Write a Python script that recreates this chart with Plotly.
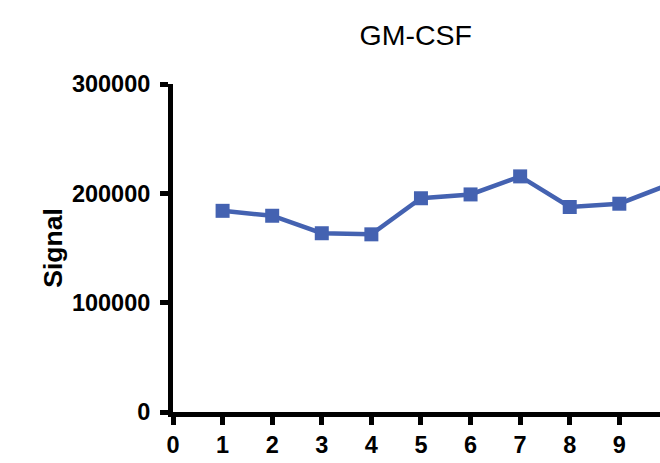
import plotly.graph_objects as go

# Time points and measured signal (GM-CSF)
time_points = [1, 2, 3, 4, 5, 6, 7, 8, 9, 10]
signal = [184000, 179500, 163500, 162500, 195500, 199000, 215500, 187500, 190500, 208000]

x_ticks = [0, 1, 2, 3, 4, 5, 6, 7, 8, 9, 10]
y_ticks = [0, 100000, 200000, 300000]

BLUE = "#4462B1"
FONT = "Arial, Liberation Sans, sans-serif"

fig = go.Figure()
fig.add_trace(go.Scatter(
    x=time_points,
    y=signal,
    mode="lines+markers",
    line=dict(color=BLUE, width=4.5),
    marker=dict(symbol="square", size=14, color=BLUE),
    showlegend=False,
))

fig.update_layout(
    width=660,
    height=463,
    margin=dict(l=173, r=0, t=84, b=51),
    paper_bgcolor="white",
    plot_bgcolor="white",
    title=dict(text="GM-CSF", x=0.630, xanchor="center", y=0.924, yanchor="middle",
               font=dict(family=FONT, size=28.5, color="black")),
    font=dict(family=FONT, color="black"),
)

axis_style = dict(
    showgrid=False,
    zeroline=False,
    showline=True,
    linecolor="black",
    linewidth=5,
    ticks="outside",
    ticklen=8,
    tickwidth=5,
    tickcolor="black",
    tickfont=dict(family=FONT, size=23.5, color="black", weight="bold"),
)

fig.update_xaxes(range=[0, 9.82], tickvals=x_ticks, **axis_style)
fig.update_yaxes(
    range=[0, 300000],
    tickvals=y_ticks,
    tickformat="d",
    ticklabelstandoff=5,
    title=dict(text="Signal", standoff=3,
               font=dict(family=FONT, size=26.5, color="black", weight="bold")),
    **axis_style,
)

# drop the default page margin so the figure sits at the window's corner
fig.write_html("out.html", config={"displayModeBar": False},
               post_script="document.body.style.margin='0';")
